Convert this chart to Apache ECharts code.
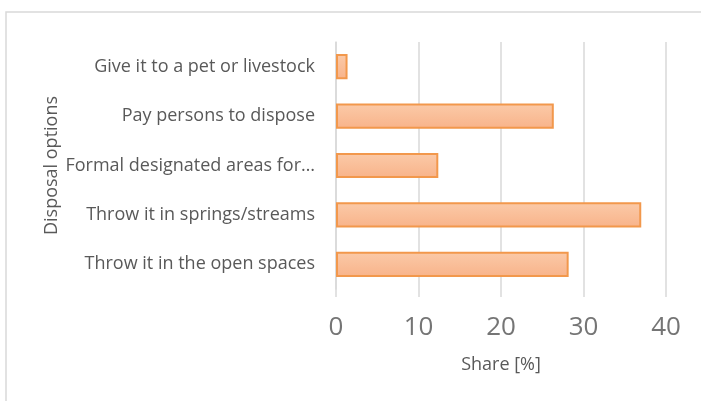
<!DOCTYPE html>
<html lang="en">
<head>
    <meta charset="UTF-8">
    <title>Disposal options</title>
    <script src="https://cdn.jsdelivr.net/npm/echarts@6/dist/echarts.min.js"></script>
    <style>
        html, body { margin: 0; padding: 0; background: #fff; }
        #barcharts { width: 701px; height: 401px; }
    </style>
</head>
<body>
    <div id="barcharts"></div>
</body>
<script type="text/javascript">
    // categories, bottom to top as drawn
    var categories = ['Throw it in the open spaces', 'Throw it in springs/streams', 'Formal designated areas for…', 'Pay persons to dispose', 'Give it to a pet or livestock'];
    var shares = [28.2, 37.0, 12.4, 26.4, 1.4];
    var xTicks = [0, 10, 20, 30, 40];

    var font = 'Open Sans';
    var gridColor = '#d9d9d9';
    var barcharts = echarts.init(document.getElementById('barcharts'));
    var option = {
        animation: false,
        textStyle: { fontFamily: font },
        graphic: [{
            type: 'rect',
            shape: { x: 6, y: 12, width: 720, height: 420 },
            style: { fill: 'none', stroke: gridColor, lineWidth: 1.5 }
        }],
        grid: {
            left: 336,
            right: 35,
            top: 42,
            bottom: 112
        },
        xAxis: {
            type: 'value',
            min: xTicks[0],
            max: xTicks[xTicks.length - 1],
            interval: 10,
            name: 'Share [%]',
            nameLocation: 'middle',
            nameGap: 67,
            nameTextStyle: { color: '#595959', fontSize: 18, fontFamily: font },
            axisLine: { show: false },
            axisTick: { show: true, length: 8, lineStyle: { color: gridColor, width: 1.5 } },
            axisLabel: { color: '#757575', fontSize: 26, margin: 26, fontFamily: font },
            splitLine: { show: true, lineStyle: { color: gridColor, width: 1.5 } }
        },
        yAxis: {
            type: 'category',
            data: categories,
            name: 'Disposal options',
            nameLocation: 'middle',
            nameRotate: 90,
            nameGap: 275,
            nameTextStyle: { color: '#595959', fontSize: 18, fontFamily: font },
            axisLine: { show: true, lineStyle: { color: gridColor, width: 1.5 } },
            axisTick: { show: false },
            axisLabel: { color: '#595959', fontSize: 18, margin: 21, fontFamily: font }
        },
        series: [{
            type: 'bar',
            data: shares,
            barCategoryGap: '49%',
            itemStyle: {
                color: new echarts.graphic.LinearGradient(0, 0, 0, 1, [
                    { offset: 0, color: '#fbcaa8' },
                    { offset: 1, color: '#f8b38a' }
                ]),
                borderColor: '#f2984c',
                borderWidth: 2
            }
        }]
    };
    barcharts.setOption(option);
</script>
</html>
